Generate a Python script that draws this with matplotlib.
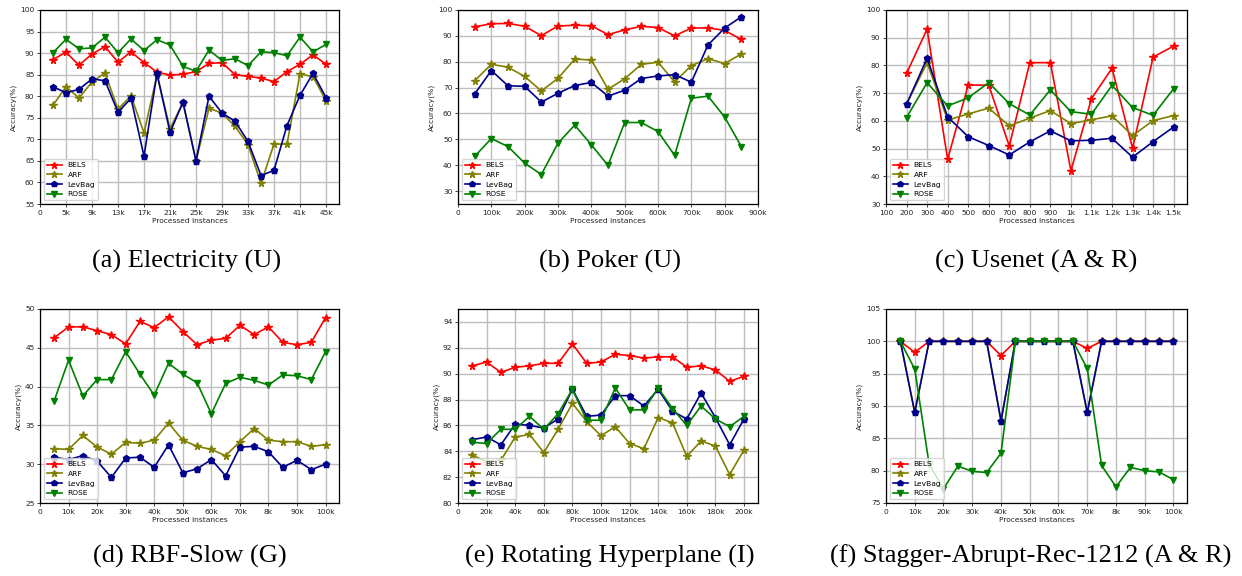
import matplotlib
matplotlib.use("Agg")
import matplotlib.pyplot as plt
import numpy as np

METHODS = ['BELS', 'ARF', 'LevBag', 'ROSE']
COLORS = {'BELS': '#ff0000', 'ARF': '#808000', 'LevBag': '#00008b', 'ROSE': '#008000'}
MARKERS = {'BELS': '*', 'ARF': '*', 'LevBag': 'p', 'ROSE': 'v'}

# (a) Electricity, x in thousands
elec_x = list(range(3, 46, 2))
elec_bels = [88.5, 90.2, 87.2, 89.8, 91.5, 87.9, 90.3, 87.8, 85.6, 84.9, 85.1, 85.7,
             87.6, 87.8, 85.0, 84.6, 84.2, 83.4, 85.7, 87.4, 89.6, 87.4]
elec_arf = [77.9, 82.2, 79.6, 83.3, 85.4, 77.0, 80.1, 71.5, 84.9, 72.5, 78.5, 65.0,
            77.2, 76.1, 73.0, 68.8, 59.8, 68.9, 68.9, 85.2, 84.5, 79.0]
elec_lev = [82.2, 80.8, 81.6, 84.0, 83.6, 76.3, 79.5, 66.1, 85.3, 71.6, 78.6, 65.0,
            80.0, 76.1, 74.2, 69.5, 61.6, 62.8, 73.2, 80.2, 85.3, 79.7]
elec_rose = [90.1, 93.2, 91.0, 91.2, 93.7, 90.1, 93.3, 90.6, 93.1, 91.9, 86.9, 85.8,
             90.7, 88.3, 88.7, 87.1, 90.3, 90.1, 89.4, 93.7, 90.3, 92.0]
elec_ticks = list(range(1, 46, 4))
elec_labels = ['0', '5k', '9k', '13k', '17k', '21k', '25k', '29k', '33k', '37k', '41k', '45k']

# (b) Poker, x in thousands
poker_x = list(range(50, 851, 50))
poker_bels = [93.5, 94.7, 94.8, 93.7, 90.1, 93.8, 94.1, 93.9, 90.5, 92.3, 93.7, 93.2,
              90.0, 93.0, 93.1, 92.1, 88.6]
poker_arf = [72.7, 79.0, 77.9, 74.3, 68.7, 73.6, 81.0, 80.7, 69.4, 73.4, 79.0, 79.8,
             72.2, 78.5, 81.2, 79.3, 83.0]
poker_lev = [67.5, 76.6, 70.7, 70.5, 64.4, 67.8, 70.8, 72.0, 66.7, 69.0, 73.5, 74.5,
             75.0, 72.1, 86.5, 93.0, 97.4]
poker_rose = [43.4, 50.3, 47.2, 40.8, 36.4, 48.5, 55.5, 47.9, 39.9, 56.5, 56.5, 53.0,
              43.8, 65.9, 66.7, 58.6, 47.2]
poker_ticks = list(range(0, 901, 100))
poker_labels = ['0'] + ['%dk' % t for t in poker_ticks[1:]]

# (c) Usenet
use_x = list(range(200, 1501, 100))
use_bels = [77.1, 93.1, 46.1, 72.9, 72.9, 50.9, 81.0, 81.0, 42.0, 68.0, 79.0, 50.1, 83.0, 87.0]
use_arf = [66.0, 81.0, 60.3, 62.5, 64.6, 58.2, 61.0, 63.7, 59.0, 60.4, 61.8, 54.7, 60.1, 61.9]
use_lev = [66.0, 82.6, 61.4, 54.3, 51.1, 47.7, 52.4, 56.4, 52.8, 53.0, 53.7, 46.9, 52.5, 57.8]
use_rose = [61.2, 73.8, 65.4, 68.3, 73.8, 66.2, 62.1, 71.2, 63.3, 62.4, 72.8, 64.8, 62.0, 71.6]
use_ticks = list(range(100, 1501, 100))
use_labels = ['100', '200', '300', '400', '500', '600', '700', '800', '900',
              '1k', '1.1k', '1.2k', '1.3k', '1.4k', '1.5k']

# (d) RBF-Slow, x in thousands
rbf_x = list(range(5, 101, 5))
rbf_bels = [46.3, 47.7, 47.7, 47.2, 46.7, 45.5, 48.4, 47.6, 49.0, 47.1, 45.4, 46.0,
            46.2, 47.9, 46.7, 47.7, 45.7, 45.4, 45.7, 48.9]
rbf_arf = [32.0, 31.9, 33.7, 32.2, 31.3, 32.8, 32.7, 33.1, 35.3, 33.1, 32.3, 31.9,
           31.1, 32.9, 34.6, 33.1, 32.9, 32.9, 32.3, 32.5]
rbf_lev = [30.9, 30.6, 31.1, 30.4, 28.3, 30.8, 30.9, 29.6, 32.5, 28.9, 29.4, 30.6,
           28.5, 32.2, 32.3, 31.6, 29.6, 30.5, 29.3, 30.0]
rbf_rose = [38.2, 43.4, 38.8, 40.9, 40.9, 44.5, 41.6, 38.9, 43.0, 41.6, 40.5, 36.5,
            40.4, 41.2, 40.8, 40.2, 41.5, 41.4, 40.9, 44.5]
k100_ticks = list(range(0, 101, 10))
k100_labels = ['0', '10k', '20k', '30k', '40k', '50k', '60k', '70k', '8k', '90k', '100k']

# (e) Rotating Hyperplane, x in thousands
hyp_x = list(range(10, 201, 10))
hyp_bels = [90.6, 90.9, 90.1, 90.5, 90.6, 90.8, 90.8, 92.3, 90.8, 90.9, 91.5, 91.4,
            91.2, 91.3, 91.3, 90.5, 90.6, 90.3, 89.4, 89.8]
hyp_arf = [83.7, 83.2, 83.3, 85.1, 85.3, 83.9, 85.7, 87.7, 86.3, 85.2, 85.9, 84.6,
           84.2, 86.6, 86.2, 83.6, 84.8, 84.4, 82.2, 84.1]
hyp_lev = [84.9, 85.1, 84.5, 86.1, 86.0, 85.8, 86.5, 88.8, 86.7, 86.8, 88.3, 88.3,
           87.5, 88.8, 87.1, 86.5, 88.5, 86.6, 84.5, 86.5]
hyp_rose = [84.7, 84.6, 85.7, 85.7, 86.7, 85.7, 86.9, 88.8, 86.4, 86.4, 88.9, 87.2,
            87.2, 88.9, 87.3, 86.0, 87.5, 86.5, 85.9, 86.7]
hyp_ticks = list(range(0, 201, 20))
hyp_labels = ['0'] + ['%dk' % t for t in hyp_ticks[1:]]

# (f) Stagger-Abrupt-Rec-1212, x in thousands
stag_x = list(range(5, 101, 5))
stag_bels = [100, 98.3, 100, 100, 100, 100, 100, 97.8, 100, 100, 100, 100,
             100, 98.9, 100, 100, 100, 100, 100, 100]
stag_arf = [100, 89.0, 100, 100, 100, 100, 100, 87.7, 100, 100, 100, 100,
            100, 89.0, 100, 100, 100, 100, 100, 100]
stag_lev = [100, 89.0, 100, 100, 100, 100, 100, 87.7, 100, 100, 100, 100,
            100, 89.0, 100, 100, 100, 100, 100, 100]
stag_rose = [100, 95.7, 81.0, 77.2, 80.7, 79.9, 79.7, 82.7, 100, 100, 100, 100,
             100, 95.8, 80.8, 77.5, 80.5, 80.0, 79.8, 78.6]

panels = [
    dict(box=(40, 10, 339, 204), x=elec_x, ys=[elec_bels, elec_arf, elec_lev, elec_rose],
         xticks=elec_ticks, xlabels=elec_labels, xlim=(1, 47), ylim=(55, 100),
         yticks=range(55, 101, 5), caption='(a) Electricity (U)', cx=187, cy=261),
    dict(box=(458, 10, 758, 204), x=poker_x, ys=[poker_bels, poker_arf, poker_lev, poker_rose],
         xticks=poker_ticks, xlabels=poker_labels, xlim=(0, 900), ylim=(25, 100),
         yticks=range(30, 101, 10), caption='(b) Poker (U)', cx=610, cy=261),
    dict(box=(886, 10, 1187, 204), x=use_x, ys=[use_bels, use_arf, use_lev, use_rose],
         xticks=use_ticks, xlabels=use_labels, xlim=(100, 1565), ylim=(30, 100),
         yticks=range(30, 101, 10), caption='(c) Usenet (A & R)', cx=1036, cy=261),
    dict(box=(40, 309, 339, 503), x=rbf_x, ys=[rbf_bels, rbf_arf, rbf_lev, rbf_rose],
         xticks=k100_ticks, xlabels=k100_labels, xlim=(0, 104.7), ylim=(25, 50),
         yticks=range(25, 51, 5), caption='(d) RBF-Slow (G)', cx=190, cy=556),
    dict(box=(458, 309, 758, 503), x=hyp_x, ys=[hyp_bels, hyp_arf, hyp_lev, hyp_rose],
         xticks=hyp_ticks, xlabels=hyp_labels, xlim=(0, 209.8), ylim=(80, 95),
         yticks=range(80, 95, 2), caption='(e) Rotating Hyperplane (I)', cx=610, cy=556),
    dict(box=(886, 309, 1187, 503), x=stag_x, ys=[stag_bels, stag_arf, stag_lev, stag_rose],
         xticks=k100_ticks, xlabels=k100_labels, xlim=(0, 104.7), ylim=(75, 105),
         yticks=range(75, 106, 5), caption='(f) Stagger-Abrupt-Rec-1212 (A & R)', cx=1031, cy=556),
]

W, H = 1242, 576
fig = plt.figure(figsize=(W / 100, H / 100), dpi=100, facecolor='white')

for p in panels:
    x0, y0, x1, y1 = p['box']
    ax = fig.add_axes([x0 / W, 1 - y1 / H, (x1 - x0) / W, (y1 - y0) / H])
    for name, ys in zip(METHODS, p['ys']):
        ms = 5.5 if MARKERS[name] == '*' else 4.5
        ax.plot(p['x'], ys, color=COLORS[name], marker=MARKERS[name], markersize=ms,
                linewidth=1.2, label=name)
    ax.set_xlim(*p['xlim'])
    ax.set_ylim(*p['ylim'])
    ax.set_xticks(p['xticks'])
    ax.set_xticklabels(p['xlabels'])
    ax.set_yticks(list(p['yticks']))
    ax.grid(True, color='#bdbdbd', linewidth=1.0)
    ax.set_axisbelow(True)
    ax.tick_params(labelsize=5.4, length=2.5, width=0.6, pad=1.5, colors='#222222')
    for s in ax.spines.values():
        s.set_linewidth(0.9)
    ax.set_xlabel('Processed instances', fontsize=5.4, labelpad=2, color='#222222')
    ax.set_ylabel('Accuracy(%)', fontsize=5.4, labelpad=2, color='#222222')
    ax.legend(loc='lower left', fontsize=5.4, handlelength=2.0, borderpad=0.4,
              labelspacing=0.45, markerscale=0.9, edgecolor='#cccccc')
    fig.text(p['cx'] / W, 1 - p['cy'] / H, p['caption'], ha='center', va='center',
             fontsize=19, family='Liberation Serif')

fig.savefig('out.png', dpi=100, facecolor='white')
